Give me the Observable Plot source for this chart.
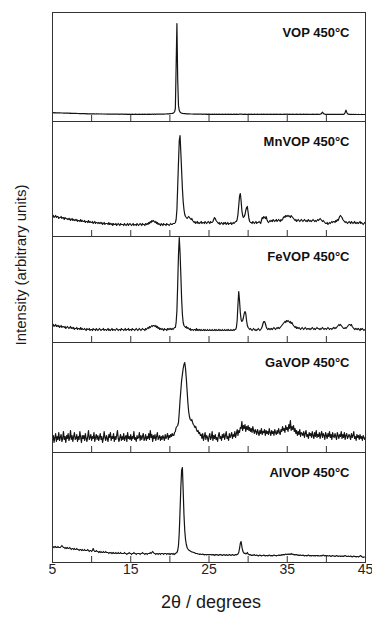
<!DOCTYPE html>
<html>
<head>
<meta charset="utf-8">
<script src="https://cdn.jsdelivr.net/npm/d3@7"></script>
<script src="https://cdn.jsdelivr.net/npm/@observablehq/plot@0.6"></script>
<style>
  html, body { margin: 0; padding: 0; background: #fff; }
  #chart { position: relative; width: 372px; height: 621px; font-family: "Liberation Sans", Arial, sans-serif; }
  #chart svg { display: block; overflow: visible; }
  #ylabel { position: absolute; left: 20px; top: 265px; width: 0; height: 0; }
  #ylabel span { position: absolute; left: 0; top: 0; transform: translate(-50%, -50%) rotate(-90deg); white-space: nowrap; font-size: 15px; color: #1a1a1a; }
</style>
</head>
<body>
<div id="chart"><div id="ylabel"><span>Intensity (arbitrary units)</span></div></div>
<script>
// sampling grid: 2θ from 5 to 45 in 0.1° steps
const twoTheta = d3.range(401).map(i => +(5 + i * 0.1).toFixed(1));

const samples = ["VOP 450°C", "MnVOP 450°C", "FeVOP 450°C", "GaVOP 450°C", "AlVOP 450°C"];
const xTickLabels = [5, 15, 25, 35, 45];
const minorTicks = [10, 15, 20, 25, 30, 35, 40];

// intensities (arbitrary units), one row per degree
const vop = [
8.8,8.8,8.7,8.8,8.7,8.7,8.6,8.7,8.6,8.6,
8.5,8.6,8.5,8.5,8.4,8.5,8.4,8.4,8.3,8.4,
8.3,8.3,8.2,8.3,8.2,8.2,8.1,8.2,8.1,8.1,
8.0,8.1,8.0,8.0,7.9,8.0,7.9,7.9,7.8,7.9,
7.8,7.8,7.8,7.7,7.8,7.7,7.7,7.7,7.6,7.7,
7.6,7.6,7.7,7.6,7.6,7.5,7.6,7.6,7.5,7.6,
7.5,7.5,7.6,7.5,7.5,7.5,7.4,7.5,7.5,7.4,
7.4,7.5,7.4,7.4,7.4,7.3,7.4,7.4,7.3,7.4,
7.3,7.4,7.3,7.3,7.3,7.3,7.2,7.3,7.3,7.3,
7.3,7.2,7.3,7.3,7.2,7.3,7.2,7.2,7.3,7.2,
7.2,7.2,7.3,7.2,7.2,7.2,7.3,7.2,7.2,7.2,
7.2,7.3,7.2,7.2,7.2,7.3,7.2,7.2,7.3,7.2,
7.2,7.2,7.3,7.2,7.3,7.2,7.2,7.3,7.3,7.2,
7.3,7.3,7.2,7.3,7.3,7.4,7.3,7.3,7.4,7.4,
7.4,7.4,7.5,7.4,7.5,7.5,7.6,7.6,7.7,7.7,
7.8,7.9,8.0,8.1,8.3,8.8,9.6,13,55,98,
42,16,11,9.4,8.8,8.4,8.2,8.0,7.9,7.8,
7.8,7.7,7.7,7.6,7.6,7.6,7.5,7.5,7.5,7.5,
7.4,7.4,7.4,7.3,7.4,7.3,7.3,7.3,7.3,7.3,
7.3,7.3,7.2,7.3,7.3,7.3,7.2,7.3,7.2,7.3,
7.2,7.3,7.2,7.2,7.3,7.2,7.2,7.3,7.2,7.2,
7.3,7.2,7.2,7.3,7.2,7.2,7.2,7.3,7.2,7.2,
7.2,7.3,7.2,7.2,7.2,7.3,7.2,7.2,7.3,7.2,
7.2,7.2,7.3,7.2,7.2,7.3,7.2,7.2,7.2,7.3,
7.3,7.4,7.3,7.2,7.2,7.2,7.3,7.2,7.2,7.2,
7.2,7.3,7.2,7.2,7.3,7.2,7.2,7.2,7.3,7.2,
7.2,7.2,7.3,7.2,7.2,7.2,7.2,7.3,7.2,7.2,
7.3,7.2,7.2,7.2,7.3,7.2,7.2,7.2,7.2,7.3,
7.2,7.2,7.2,7.3,7.2,7.2,7.3,7.2,7.2,7.2,
7.2,7.3,7.2,7.2,7.2,7.2,7.3,7.2,7.2,7.3,
7.3,7.2,7.2,7.3,7.2,7.2,7.2,7.3,7.2,7.2,
7.2,7.2,7.3,7.2,7.2,7.2,7.2,7.3,7.2,7.2,
7.2,7.3,7.2,7.2,7.2,7.3,7.2,7.2,7.2,7.2,
7.2,7.2,7.2,7.3,7.2,7.2,7.2,7.2,7.3,7.2,
7.2,7.2,7.3,7.5,8.2,9.3,8.3,7.5,7.3,7.2,
7.2,7.1,7.2,7.1,7.1,7.2,7.1,7.1,7.1,7.2,
7.1,7.1,7.1,7.2,7.1,7.1,7.1,7.1,7.2,7.1,
7.1,7.1,7.2,7.6,9.0,11.4,9.2,7.7,7.3,7.2,
7.1,7.1,7.1,7.0,7.1,7.1,7.0,7.1,7.0,7.0,
7.0,7.1,7.0,7.0,7.0,7.1,7.0,7.0,7.0,7.0,
7.0];

const mnvop = [
20,21,19,20,21,19,20,20,18,19,
19,20,18,19,19,17,19,18,18,17,
18,17,18,16,17,18,16,17,16,17,
16,17,15,16,16,15,17,15,16,15,
15,16,14,15,15,14,16,14,15,14,
14,15,13,14,15,13,14,14,13,14,
13,14,13,14,12,13,14,12,13,13,
13,12,14,12,13,12,13,11,13,12,
12,13,11,12,13,12,11,13,12,12,
12,11,13,12,11,12,13,11,12,13,
12,11,12,13,11,12,12,11,13,12,
11,12,13,12,11,13,12,12,11,13,
12,13,12,14,13,15,14,16,15,16,
15,14,15,13,14,12,13,12,11,13,
12,11,13,12,12,11,13,12,12,11,
12,13,12,12,13,13,13,14,17,27,
50,74,96,101,84,66,48,35,27,22,
20,19,18,19,20,19,18,17,18,16,
15,14,15,13,14,15,13,14,13,14,
15,13,14,14,13,15,14,13,14,15,
14,13,15,14,14,15,17,19,18,16,
15,14,13,14,12,13,14,13,12,14,
13,14,12,13,14,12,13,13,14,12,
13,14,13,14,15,15,17,22,31,40,
43,36,26,21,19,20,22,26,29,30,
24,18,15,14,14,13,15,14,13,14,
15,13,14,14,15,14,13,16,19,18,
20,19,18,20,17,15,14,15,16,15,
16,15,17,16,15,16,17,15,16,17,
16,15,17,16,17,19,20,19,21,20,
21,20,21,20,19,21,20,19,18,17,
16,17,15,16,17,16,15,16,17,16,
15,16,17,16,15,16,15,17,16,15,
16,15,16,17,16,15,16,15,16,17,
16,17,18,17,16,15,16,15,14,13,
13,14,12,13,14,13,14,15,14,15,
15,14,16,15,17,16,18,20,21,20,
19,17,16,15,14,15,14,13,14,15,
14,13,15,14,13,14,15,13,14,13,
14,13,14,15,13,14,13,12,13,14,
13];

const fevop = [
17,18,16,17,18,16,17,16,17,15,
16,17,15,16,16,15,16,14,15,16,
15,14,15,16,14,15,14,15,13,14,
14,15,13,14,14,13,15,13,14,13,
13,14,13,12,14,13,13,14,12,13,
13,12,14,13,13,12,14,13,12,13,
14,13,12,13,13,14,12,13,13,12,
13,14,12,13,12,13,14,12,13,13,
12,13,14,13,12,13,13,12,14,13,
13,12,13,14,12,13,13,14,12,13,
13,12,14,13,13,12,13,14,13,12,
13,14,13,12,13,14,13,13,12,14,
13,14,15,14,16,15,16,17,16,17,
17,16,17,15,16,14,15,13,14,13,
14,13,12,14,13,13,12,14,13,14,
13,14,13,14,13,14,15,15,20,32,
58,88,105,90,68,44,28,20,17,16,
15,16,14,15,14,13,14,12,13,13,
12,13,13,12,14,12,13,12,13,12,
13,12,12,13,12,13,12,12,13,12,
12,13,12,12,13,12,12,13,12,13,
12,12,13,12,13,12,12,13,12,12,
13,12,12,13,12,13,12,12,13,12,
12,13,12,13,13,15,22,38,51,42,
30,23,21,22,25,29,31,29,22,17,
15,14,13,14,13,12,13,14,13,12,
13,12,13,14,13,12,13,14,16,19,
21,21,19,16,14,13,14,13,14,13,
14,13,14,15,14,13,14,15,14,15,
14,15,16,17,18,19,20,21,20,22,
21,22,21,20,21,19,20,18,17,16,
15,16,14,15,14,15,14,13,14,15,
14,13,14,15,14,13,14,14,13,14,
13,14,15,14,13,14,13,14,15,14,
14,13,14,13,14,15,14,13,14,14,
13,14,15,14,13,14,14,13,14,15,
14,15,14,15,16,17,18,17,18,17,
16,15,14,14,15,14,15,16,17,18,
18,17,18,16,15,14,13,14,13,14,
13,14,13,12,14,13,14,13,12,13,
13];

const gavop = [
12,17,10,15,19,11,16,13,20,12,
15,18,11,14,21,13,16,10,17,14,
19,12,15,22,13,17,11,16,20,13,
14,18,11,16,13,21,15,10,17,14,
17,12,19,14,11,16,22,13,15,18,
12,16,14,20,11,15,18,13,17,12,
15,19,13,16,10,14,21,15,12,17,
14,11,18,15,20,12,16,14,19,11,
16,13,17,22,14,11,15,18,12,16,
13,19,12,15,17,11,20,14,16,13,
18,12,16,14,21,13,15,11,17,14,
15,20,12,17,13,16,19,12,14,18,
12,16,14,19,13,22,15,18,11,17,
14,18,12,16,20,13,15,17,12,16,
13,17,15,12,18,14,16,19,13,17,
15,18,16,19,17,17,20,21,25,26,
27,30,40,52,62,72,78,84,88,90,
84,74,62,50,41,36,33,32,33,30,
28,27,25,26,23,21,22,19,20,17,
18,14,19,12,16,20,13,17,15,11,
16,19,13,15,21,12,17,14,18,13,
15,11,17,20,14,16,12,18,15,19,
13,17,21,14,16,12,19,15,17,20,
14,18,16,21,15,19,23,17,22,20,
25,24,31,22,27,24,28,21,26,23,
27,22,25,21,24,20,26,22,19,23,
21,18,23,20,17,22,19,24,18,21,
20,23,17,22,19,21,18,24,20,17,
22,19,21,17,23,20,18,22,19,24,
20,18,23,21,26,22,24,20,27,23,
25,21,28,24,32,22,26,23,27,21,
24,19,22,17,21,18,23,16,20,19,
17,21,15,19,22,16,18,14,20,17,
19,15,21,17,14,20,16,22,15,18,
16,20,14,18,21,15,19,17,13,20,
17,14,19,16,21,15,18,13,20,16,
15,19,16,13,20,17,14,18,16,21,
14,18,15,20,13,17,19,14,16,18,
16,13,19,15,17,21,14,16,12,18,
15,17,13,18,14,16,12,17,15,13,
15];

const alvop = [
16,15,16,15,16,15,15,16,15,15,
15,16,17,16,15,15,14,15,14,15,
14,14,15,14,13,14,14,13,14,13,
13,14,13,13,12,13,13,12,13,12,
12,13,12,12,12,13,12,11,12,12,
11,12,14,12,11,11,12,11,11,10,
11,10,11,10,10,11,10,10,11,10,
10,10,9,10,10,9,10,9,10,9,
9,10,9,9,10,9,9,10,9,9,
9,9,10,9,9,8,9,9,10,9,
9,8,9,9,10,9,9,8,9,9,
9,9,8,9,9,10,9,9,8,9,
9,8,9,9,9,10,9,10,11,10,
9,9,8,9,9,8,9,9,8,9,
9,9,8,9,9,9,8,9,9,8,
9,8,9,9,8,9,8,9,9.5,10,
12,17,30,52,75,92,95,72,48,32,
23,18,15,13.5,12.5,12,11.5,11,10.5,10.5,
10,10,9.5,9,9,9,8.5,8.5,8,8.5,
8,8,8.5,8,7.5,8,8,7.5,8,8,
7.5,8,8,7.5,8,7.5,8,7,8,7.5,
8,7.5,7,8,7.5,8,7.5,7,7.5,8,
7.5,7,8,7.5,7,7.5,8,7.5,7,7.5,
8,7.5,7,7.5,8,7.5,8,8.5,10,14,
19,21,16,12,10,9,9.5,8.5,9,10,
8.5,8,7.5,8,7,7.5,7,7.5,8,7,
7,7.5,7,6.5,7,7.5,7,6.5,7,7,
7.5,7,6.5,7,7,6.5,7,7.5,7,6.5,
7,6.5,7,7.5,7,7,6.5,7,7,7.5,
7,7.5,7,8,7.5,8,7.5,8,8.5,8,
8,8.5,8,8.5,8,9,8,8.5,8,7.5,
8,7.5,8,7.5,7,7.5,7,7.5,7,7,
7.5,7,6.5,7,7,6.5,7,7.5,7,6.5,
7,6.5,7,7,6.5,7,6.5,7,7,6.5,
7,6.5,6.5,7,6.5,7,7.5,7,6.5,7,
6.5,7,6.5,6.5,7,6.5,6,6.5,7,6.5,
6.5,6,6.5,7,6.5,6,6.5,6.5,6,6.5,
6,6.5,6,6.5,7,6.5,6,6,6.5,6,
6,6.5,6,5.5,6,6.5,6,6,5.5,6,
6,5.5,6,6.5,7,6,5.5,5,5.5,5.5,
5.5];

const series = [vop, mnvop, fevop, gavop, alvop];
const panelHeights = [109, 115, 106, 110, 110];
const font = "'Liberation Sans', Arial, Helvetica, sans-serif";
const root = document.getElementById("chart");

samples.forEach((name, k) => {
  const ys = series[k];
  const n = Math.min(ys.length, twoTheta.length);
  const rows = d3.range(n).map(i => ({x: twoTheta[i], y: ys[i]}));
  const first = k === 0, last = k === samples.length - 1;
  const H = panelHeights[k];
  const mt = first ? 12 : 0, mb = last ? 59 : 0;
  const marks = [
    Plot.ruleX(minorTicks, {x: d => d, y1: 0, y2: 6, stroke: "#333", strokeWidth: 1}),
    Plot.line(rows, {x: "x", y: "y", stroke: "#141414", strokeWidth: 1.2}),
    Plot.frame({stroke: "#333", strokeWidth: 1}),
    Plot.text([name], {text: d => d, frameAnchor: "top-right", dx: -16, dy: 15,
      fontSize: 13, fontWeight: "bold", fill: "#111"})
  ];
  if (last) {
    marks.push(Plot.axisX({ticks: xTickLabels, tickSize: 0, tickPadding: 2, fontSize: 14,
      label: null, tickFormat: d => String(d), color: "#222"}));
    marks.push(Plot.text(["2θ / degrees"], {text: d => d, frameAnchor: "bottom", dy: 45, dx: 2,
      fontSize: 18, fill: "#1a1a1a"}));
  }
  const svg = Plot.plot({
    width: 372,
    height: H + mt + mb,
    marginTop: mt, marginBottom: mb, marginLeft: 52, marginRight: 7,
    x: {domain: [5, 45], axis: null},
    y: {domain: [0, H], axis: null},
    style: {fontFamily: font, background: "transparent", overflow: "visible"},
    marks
  });
  root.appendChild(svg);
});
</script>
</body>
</html>
